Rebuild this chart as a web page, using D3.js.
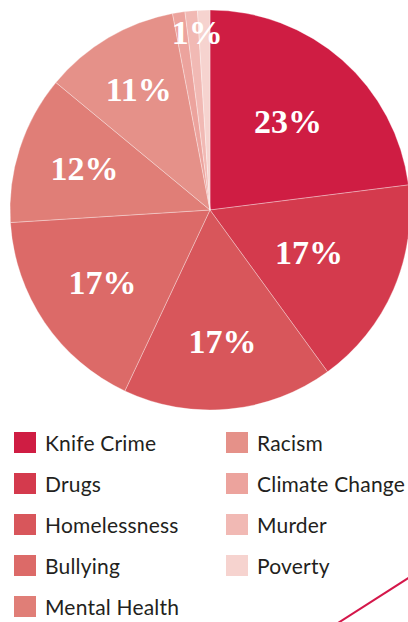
<!DOCTYPE html>
<html>
<meta charset="utf-8">
<title>Issues pie</title>
<script src="https://d3js.org/d3.v7.min.js"></script>
<style>
body { margin: 0; background: #fff; }
.pct { fill: #fff; font-family: "Liberation Serif", serif; font-weight: bold; font-size: 34px; }
.legend text { fill: #231f20; font-family: Lato, "Open Sans", sans-serif; font-size: 21px; letter-spacing: 0.2px; }
</style>
<body>
<svg width="408" height="622"></svg>
<script>
// data
var categories = ["Knife Crime", "Drugs", "Homelessness", "Bullying", "Mental Health",
                  "Racism", "Climate Change", "Murder", "Poverty"];
var values = [23, 17, 17, 17, 12, 11, 1, 1, 1];
var labels = ["23%", "17%", "17%", "17%", "12%", "11%", "", "1%", ""];
var colours = ["#cf1d43", "#d43a4d", "#d8565b", "#dc6a68", "#e07e77",
               "#e59189", "#eca39d", "#f1b9b4", "#f6d3cf"];

var svg = d3.select("svg"),
    cx = 210, cy = 210, radius = 200;

var g = svg.append("g").attr("transform", "translate(" + cx + "," + cy + ")");

var pie = d3.pie().sort(null).value(function(d) { return d; });
var arc = d3.arc().innerRadius(0).outerRadius(radius);
var arcs = pie(values);

g.selectAll(".slice")
  .data(arcs)
  .enter().append("path")
  .attr("class", "slice")
  .attr("d", arc)
  .attr("fill", function(d, i) { return colours[i]; })
  .attr("stroke", "rgba(255,255,255,0.45)")
  .attr("stroke-width", 0.7);

// label distance from centre, tuned per slice like the original artwork
var labelR = [118, 108, 132, 130, 132, 140, 0, 178, 0];

g.selectAll(".pct")
  .data(arcs)
  .enter().append("text")
  .attr("class", "pct")
  .attr("text-anchor", "middle")
  .attr("dy", "0.33em")
  .attr("transform", function(d, i) {
    var a = (d.startAngle + d.endAngle) / 2;
    if (i == 7) a = d.startAngle + (d.endAngle - d.startAngle) * 0.85;
    var r = labelR[i];
    return "translate(" + (Math.sin(a) * r) + "," + (-Math.cos(a) * r) + ")";
  })
  .text(function(d, i) { return labels[i]; });

// legend, two columns
var rowY = d3.scaleBand().domain(d3.range(5)).range([422, 627]);
var legend = svg.append("g").attr("class", "legend");
var item = legend.selectAll("g")
  .data(categories)
  .enter().append("g")
  .attr("transform", function(d, i) {
    var col = i < 5 ? 0 : 1;
    var row = col ? i - 5 : i;
    return "translate(" + (col ? 226 : 14) + "," + rowY(row) + ")";
  });

item.append("rect")
  .attr("y", 10)
  .attr("width", 22)
  .attr("height", 21)
  .attr("fill", function(d, i) { return colours[i]; });

item.append("text")
  .attr("x", 31)
  .attr("y", 29)
  .text(function(d) { return d; });

// decorative stroke bottom right
svg.append("path")
  .attr("d", "M338,623L410,577")
  .attr("stroke", "#d4174a")
  .attr("stroke-width", 2)
  .attr("fill", "none");
</script>
</body>
</html>
